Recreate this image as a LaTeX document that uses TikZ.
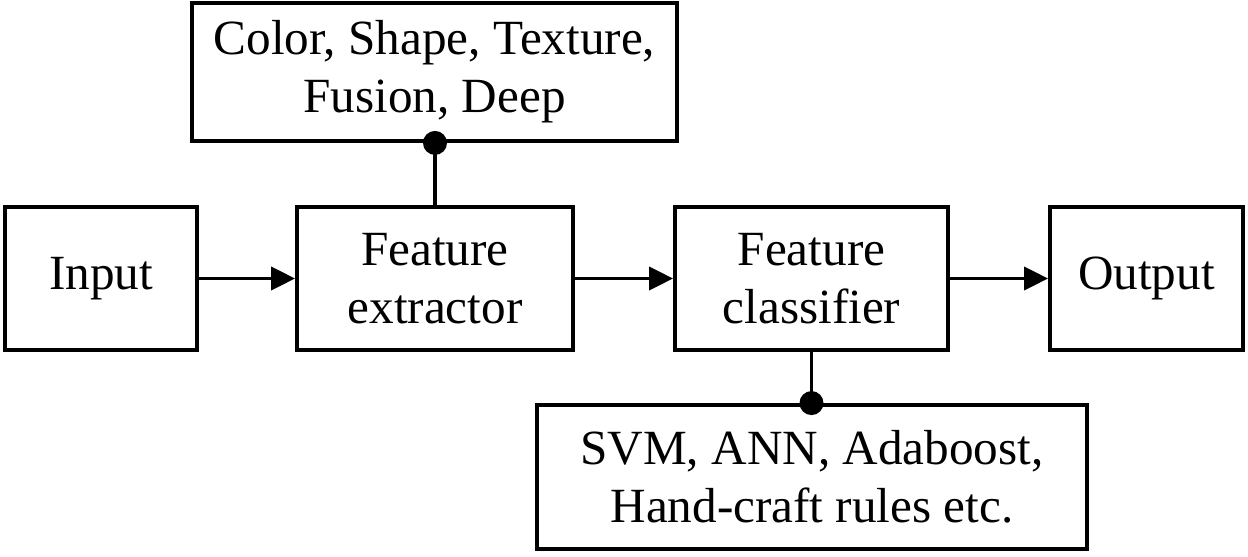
\documentclass[tikz,border=0pt]{standalone}
\usepackage{fontspec}
\setmainfont{Liberation Serif}
\usetikzlibrary{arrows.meta}

\begin{document}
\begin{tikzpicture}[x=0.02cm,y=-0.02cm,
    block/.style={draw,line width=2.2pt,align=center,minimum height=2.86cm,
      font=\fontsize{28}{33}\selectfont},
    arr/.style={line width=2.2pt,-{Triangle[length=0.48cm,width=0.46cm]}},
    dotline/.style={line width=2.2pt}]
    \useasboundingbox (0,0) rectangle (1248,557);
    % main chain
    \node[block,minimum width=3.84cm] (input) at (101,278.5) {Input};
    \node[block,minimum width=5.52cm] (extr) at (435,278.5) {Feature\\extractor};
    \node[block,minimum width=5.46cm] (clas) at (811.5,278.5) {Feature\\classifier};
    \node[block,minimum width=3.86cm] (output) at (1146.5,278.5) {Output};
    % feature and classifier types
    \node[block,minimum width=9.7cm,minimum height=2.76cm] (feat) at (434.5,72)
      {Color, Shape, Texture,\\Fusion, Deep};
    \node[block,minimum width=11cm,minimum height=2.88cm] (meth) at (812,477)
      {SVM, ANN, Adaboost,\\Hand-craft rules etc.};
    %
    \draw[arr] (input) -- (extr);
    \draw[arr] (extr) -- (clas);
    \draw[arr] (clas) -- (output);
    %
    \draw[dotline] (extr.north) -- (extr.north |- feat.south);
    \fill (extr.north |- feat.south) circle (0.24cm);
    \draw[dotline] (clas.south) -- (clas.south |- meth.north);
    \fill (clas.south |- meth.north) circle (0.24cm);
\end{tikzpicture}
\end{document}
